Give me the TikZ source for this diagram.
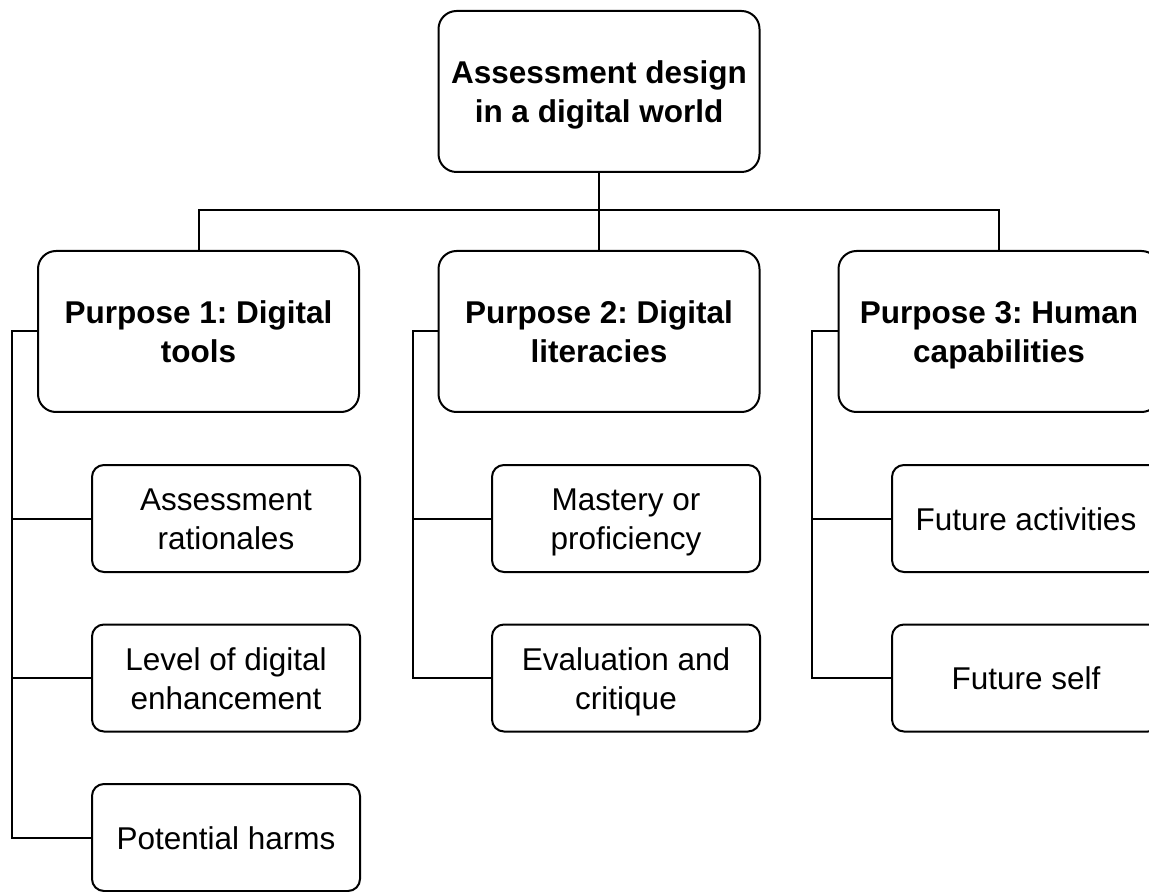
\documentclass[tikz,border=0pt]{standalone}
\usepackage{fontspec}
\setmainfont{Liberation Sans}
\frenchspacing
\newcommand\tstr{\rule{0pt}{17.6pt}}
\newcommand\bstr{\rule[-5.85pt]{0pt}{5.85pt}}
\begin{document}
\begin{tikzpicture}[x=0.5pt,y=-0.5pt,
  every node/.style={font=\fontsize{15.75}{19.5}\selectfont},
  line width=1pt,
  bigbox/.style={draw, rounded corners=9pt, minimum width=160.5pt, minimum height=80.5pt, align=center, inner sep=0pt, font=\fontsize{15.75}{19.5}\selectfont\bfseries},
  smallbox/.style={draw, rounded corners=6pt, minimum width=134pt, minimum height=53.5pt, align=center, inner sep=0pt},
  conn/.style={draw, line width=1pt}]
\useasboundingbox (0,0) rectangle (1149,892);
\clip (0,0) rectangle (1149,892);
\fill[white] (0,0) rectangle (1149,892);
\node[bigbox] (top) at (599,91.5) {\tstr Assessment design\\in a digital world\bstr};
\node[bigbox] (p1) at (198.5,331.5) {\tstr Purpose 1: Digital\\tools\bstr};
\node[bigbox] (p2) at (599,331.5) {\tstr Purpose 2: Digital\\literacies\bstr};
\node[bigbox] (p3) at (999,331.5) {\tstr Purpose 3: Human\\capabilities\bstr};
\node[smallbox] (c11) at (226,518.5) {\tstr Assessment\\rationales\bstr};
\node[smallbox] (c12) at (226,678) {\tstr Level of digital\\enhancement\bstr};
\node[smallbox] (c13) at (226,837.5) {\tstr Potential harms\bstr};
\node[smallbox] (c21) at (626,518.5) {\tstr Mastery or\\proficiency\bstr};
\node[smallbox] (c22) at (626,678) {\tstr Evaluation and\\critique\bstr};
\node[smallbox] (c31) at (1026,518.5) {\tstr Future activities\bstr};
\node[smallbox] (c32) at (1026,678) {\tstr Future self\bstr};
\coordinate (b1) at (12,331.5);
\coordinate (b2) at (413,331.5);
\coordinate (b3) at (812,331.5);
\draw[conn] (top.south) -- (p2.north);
\draw[conn] (p1.north) -- ++(0,-39.5) -| (p3.north);
\draw[conn] (p1.west) -- (b1) |- (c13.west);
\draw[conn] (b1 |- c11.west) -- (c11.west);
\draw[conn] (b1 |- c12.west) -- (c12.west);
\draw[conn] (p2.west) -- (b2) |- (c22.west);
\draw[conn] (b2 |- c21.west) -- (c21.west);
\draw[conn] (p3.west) -- (b3) |- (c32.west);
\draw[conn] (b3 |- c31.west) -- (c31.west);
\end{tikzpicture}
\end{document}
